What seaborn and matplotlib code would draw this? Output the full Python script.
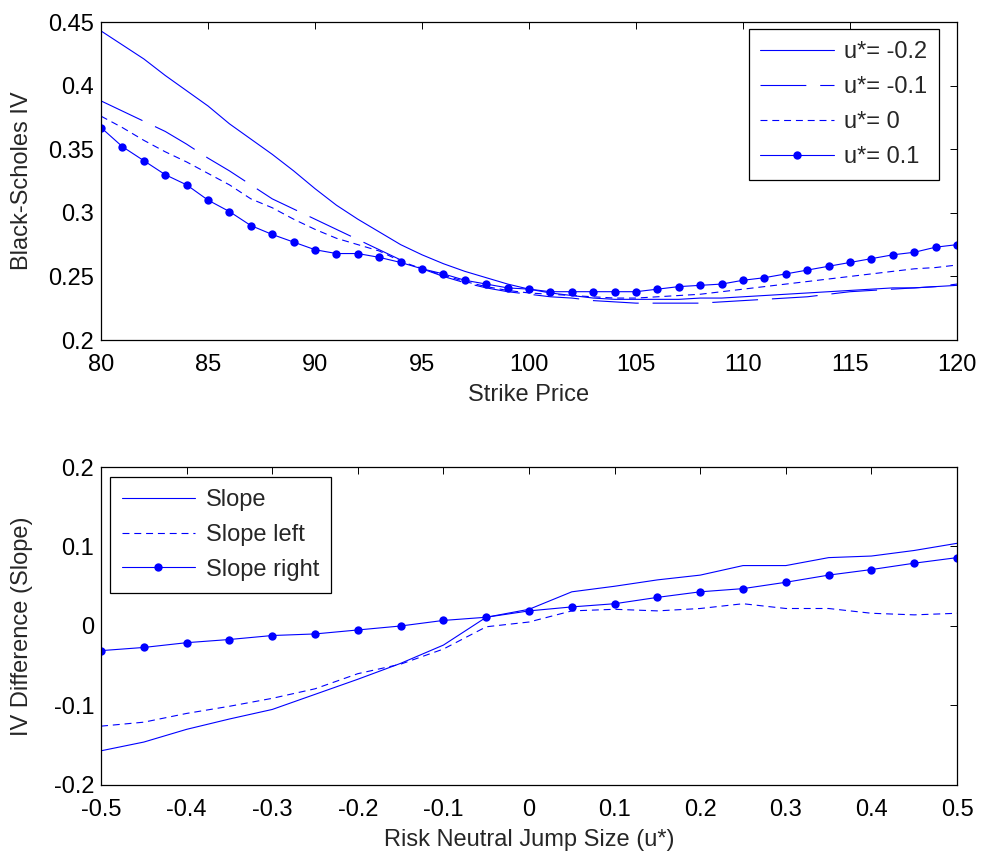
import matplotlib
matplotlib.use("Agg")
import matplotlib.pyplot as plt
import matplotlib.ticker as mticker
import numpy as np
import pandas as pd
import seaborn as sns

# ---- data ----
strike = list(range(80, 121))

iv_m02 = [0.443, 0.432, 0.421, 0.408, 0.396, 0.384, 0.370, 0.358, 0.346, 0.333,
          0.319, 0.306, 0.295, 0.285, 0.275, 0.267, 0.260, 0.254, 0.249, 0.244,
          0.240, 0.237, 0.235, 0.233, 0.232, 0.232, 0.232, 0.232, 0.233, 0.233,
          0.234, 0.235, 0.236, 0.237, 0.238, 0.239, 0.240, 0.241, 0.241, 0.242,
          0.243]
iv_m01 = [0.388, 0.380, 0.372, 0.364, 0.354, 0.343, 0.333, 0.322, 0.311, 0.303,
          0.295, 0.287, 0.279, 0.271, 0.263, 0.256, 0.250, 0.245, 0.241, 0.238,
          0.236, 0.234, 0.233, 0.231, 0.230, 0.229, 0.229, 0.229, 0.229, 0.230,
          0.231, 0.232, 0.233, 0.234, 0.236, 0.238, 0.239, 0.240, 0.241, 0.242,
          0.244]
iv_0 = [0.376, 0.367, 0.357, 0.348, 0.340, 0.331, 0.322, 0.311, 0.304, 0.295,
        0.287, 0.280, 0.275, 0.270, 0.262, 0.256, 0.251, 0.246, 0.242, 0.239,
        0.237, 0.236, 0.235, 0.234, 0.233, 0.233, 0.234, 0.235, 0.236, 0.238,
        0.240, 0.242, 0.244, 0.246, 0.248, 0.250, 0.252, 0.254, 0.256, 0.257,
        0.259]
iv_p01 = [0.367, 0.352, 0.341, 0.330, 0.322, 0.310, 0.301, 0.290, 0.283, 0.277,
          0.271, 0.268, 0.268, 0.265, 0.261, 0.256, 0.252, 0.247, 0.244, 0.241,
          0.240, 0.238, 0.238, 0.238, 0.238, 0.238, 0.240, 0.242, 0.243, 0.244,
          0.247, 0.249, 0.252, 0.255, 0.258, 0.261, 0.264, 0.267, 0.269, 0.273,
          0.275]

jump = [-0.5, -0.45, -0.4, -0.35, -0.3, -0.25, -0.2, -0.15, -0.1, -0.05, 0.0,
        0.05, 0.1, 0.15, 0.2, 0.25, 0.3, 0.35, 0.4, 0.45, 0.5]
slope = [-0.157, -0.146, -0.130, -0.117, -0.105, -0.086, -0.067, -0.047, -0.024,
         0.011, 0.021, 0.043, 0.050, 0.058, 0.064, 0.076, 0.076, 0.086, 0.088,
         0.095, 0.104]
slope_left = [-0.126, -0.121, -0.110, -0.101, -0.091, -0.079, -0.060, -0.048,
              -0.029, -0.001, 0.005, 0.019, 0.021, 0.019, 0.022, 0.028, 0.022,
              0.022, 0.016, 0.014, 0.016]
slope_right = [-0.031, -0.027, -0.021, -0.017, -0.012, -0.010, -0.005, 0.000,
               0.007, 0.011, 0.019, 0.024, 0.028, 0.036, 0.043, 0.047, 0.055,
               0.064, 0.071, 0.079, 0.086]

top_labels = ["u*= -0.2", "u*= -0.1", "u*= 0", "u*= 0.1"]
bot_labels = ["Slope", "Slope left", "Slope right"]
bot_xticks = ["-0.5", "-0.4", "-0.3", "-0.2", "-0.1", "0", "0.1", "0.2", "0.3", "0.4", "0.5"]

# ---- style: matlab-ish ----
FS = 17
sns.set_style("white")
plt.rcParams.update({
    "font.family": ["Liberation Sans", "DejaVu Sans"],
    "font.size": FS,
    "axes.unicode_minus": False,
    "axes.edgecolor": "black",
    "axes.linewidth": 0.9,
    "xtick.direction": "in",
    "ytick.direction": "in",
    "xtick.top": True,
    "ytick.right": True,
    "xtick.major.size": 5,
    "ytick.major.size": 5,
    "xtick.major.width": 0.7,
    "ytick.major.width": 0.7,
    "xtick.color": "black",
    "ytick.color": "black",
    "xtick.labelsize": FS,
    "ytick.labelsize": FS,
    "xtick.major.pad": 10,
    "ytick.major.pad": 5,
    "lines.scale_dashes": False,
})

blue = "#0000ff"
lw = 0.8
long_dash = (0, (33, 10))
short_dash = (0, (5, 3.5))

fig = plt.figure(figsize=(9.82, 8.55), dpi=100)
ax1 = fig.add_axes([0.1029, 0.6023, 0.8717, 0.3719])
ax2 = fig.add_axes([0.1029, 0.0819, 0.8717, 0.3719])

leg_kw = dict(borderaxespad=0, fancybox=False, edgecolor="black", framealpha=1,
              fontsize=FS, handlelength=3.1, handletextpad=0.45, labelspacing=0.55,
              borderpad=0.5, numpoints=1)

# top panel
sns.lineplot(x=strike, y=iv_m02, ax=ax1, color=blue, linewidth=lw, label=top_labels[0])
sns.lineplot(x=strike, y=iv_m01, ax=ax1, color=blue, linewidth=lw, linestyle=long_dash,
             label=top_labels[1])
sns.lineplot(x=strike, y=iv_0, ax=ax1, color=blue, linewidth=lw, linestyle=short_dash,
             label=top_labels[2])
sns.lineplot(x=strike, y=iv_p01, ax=ax1, color=blue, linewidth=lw, marker="o",
             markersize=6, markeredgewidth=0, label=top_labels[3])

ax1.set_xlim(80, 120)
ax1.set_ylim(0.2, 0.45)
ax1.set_xticks(np.arange(80, 121, 5))
ax1.set_yticks([0.2, 0.25, 0.3, 0.35, 0.4, 0.45])
ax1.yaxis.set_major_formatter(mticker.FormatStrFormatter("%g"))
ax1.set_xlabel("Strike Price", fontsize=FS, labelpad=6)
ax1.set_ylabel("Black-Scholes IV", fontsize=FS)
leg1 = ax1.legend(loc="upper right", bbox_to_anchor=(0.979, 0.978), **leg_kw)
leg1.get_frame().set_linewidth(0.9)

# bottom panel
sns.lineplot(x=jump, y=slope, ax=ax2, color=blue, linewidth=lw, label=bot_labels[0])
sns.lineplot(x=jump, y=slope_left, ax=ax2, color=blue, linewidth=lw, linestyle=short_dash,
             label=bot_labels[1])
sns.lineplot(x=jump, y=slope_right, ax=ax2, color=blue, linewidth=lw, marker="o",
             markersize=6, markeredgewidth=0, label=bot_labels[2])

ax2.set_xlim(-0.5, 0.5)
ax2.set_ylim(-0.2, 0.2)
ax2.set_xticks([float(t) for t in bot_xticks])
ax2.set_xticklabels(bot_xticks)
ax2.set_yticks([-0.2, -0.1, 0, 0.1, 0.2])
ax2.yaxis.set_major_formatter(mticker.FormatStrFormatter("%g"))
ax2.set_xlabel("Risk Neutral Jump Size (u*)", fontsize=FS, labelpad=6)
ax2.set_ylabel("IV Difference (Slope)", fontsize=FS)
leg2 = ax2.legend(loc="upper left", bbox_to_anchor=(0.0105, 0.9686), **leg_kw)
leg2.get_frame().set_linewidth(0.9)

for ax in (ax1, ax2):
    ax.yaxis.set_label_coords(-0.080, 0.5)
    for s in ax.spines.values():
        s.set_visible(True)
        s.set_color("black")

fig.savefig("out.png", dpi=100)
